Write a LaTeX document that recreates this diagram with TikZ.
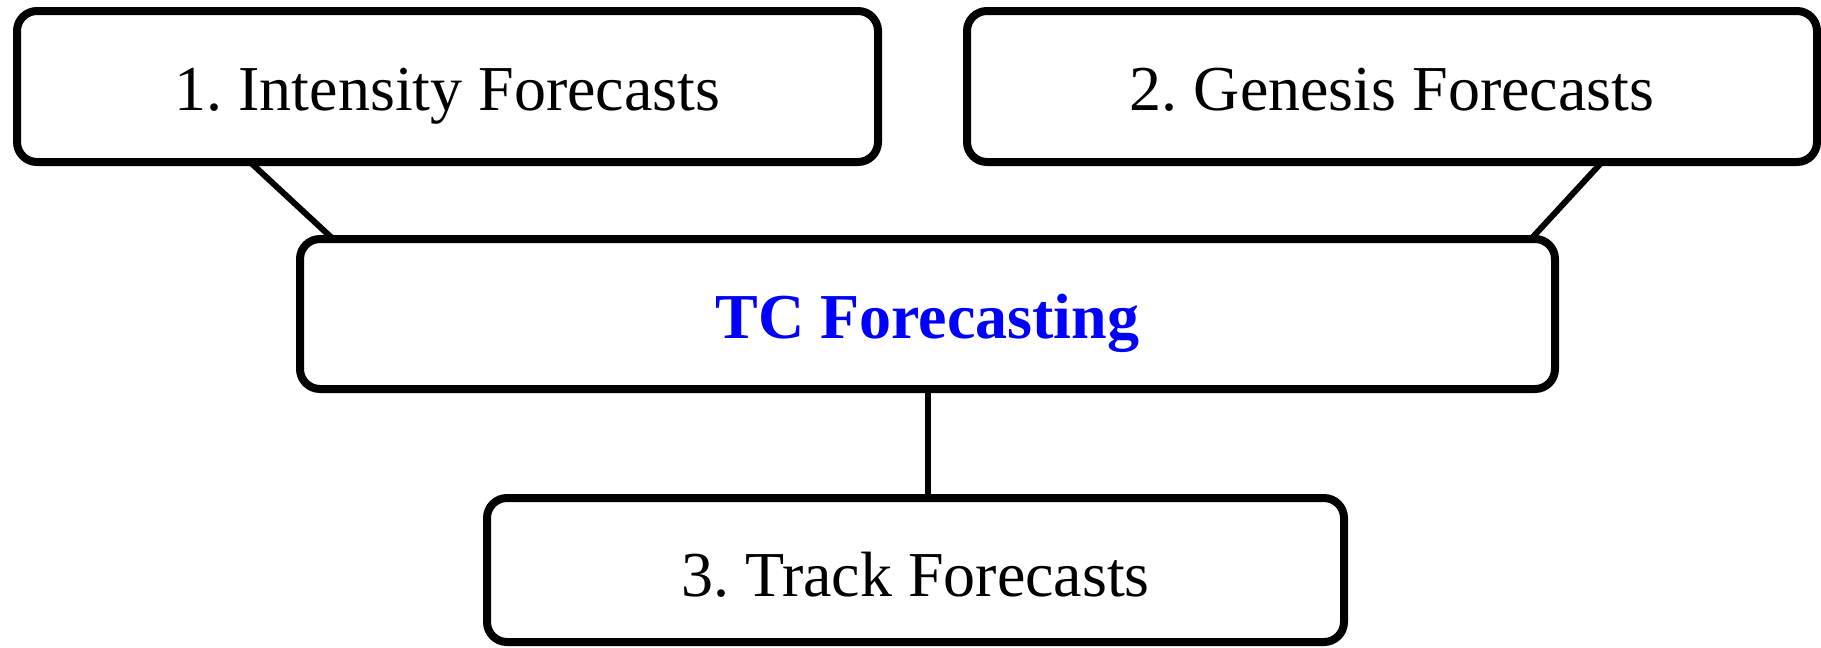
\documentclass[tikz,border=0pt]{standalone}
\usepackage{fontspec}
\setmainfont{Liberation Serif}
\frenchspacing
\definecolor{tcblue}{RGB}{0,0,255}
\begin{document}
\begin{tikzpicture}[x=1pt,y=-1pt,
  box/.style={draw=black, line width=8pt, rounded corners=20pt, fill=white,
    inner sep=0pt, outer sep=0pt, text height=48pt, text depth=0pt,
    font=\fontsize{64}{76}\selectfont},
  link/.style={draw=black, line width=6pt}]
\useasboundingbox (0,0) rectangle (1821,648);
\node[box, minimum width=861pt, minimum height=151pt] (b1) at (447.5,86.5) {1. Intensity Forecasts};
\node[box, minimum width=850pt, minimum height=151pt] (b2) at (1392,86.5) {2. Genesis Forecasts};
\node[box, minimum width=1255pt, minimum height=150pt, text=tcblue, font=\fontsize{64}{76}\selectfont\bfseries] (tc) at (927.5,314) {TC Forecasting};
\node[box, minimum width=857pt, minimum height=144pt, text height=52pt] (b3) at (915.5,570) {3. Track Forecasts};
\path (b1.south west) ++(233pt,0) coordinate (c1a);
\path (tc.north west) ++(33pt,0) coordinate (c1b);
\path (b2.south west) ++(635pt,0) coordinate (c2a);
\path (tc.north west) ++(1231pt,0) coordinate (c2b);
\path (tc.south) coordinate (c3a);
\path (b3.north -| tc.south) coordinate (c3b);
\draw[link] (c1a) -- (c1b);
\draw[link] (c2a) -- (c2b);
\draw[link] (c3a) -- (c3b);
\end{tikzpicture}
\end{document}
